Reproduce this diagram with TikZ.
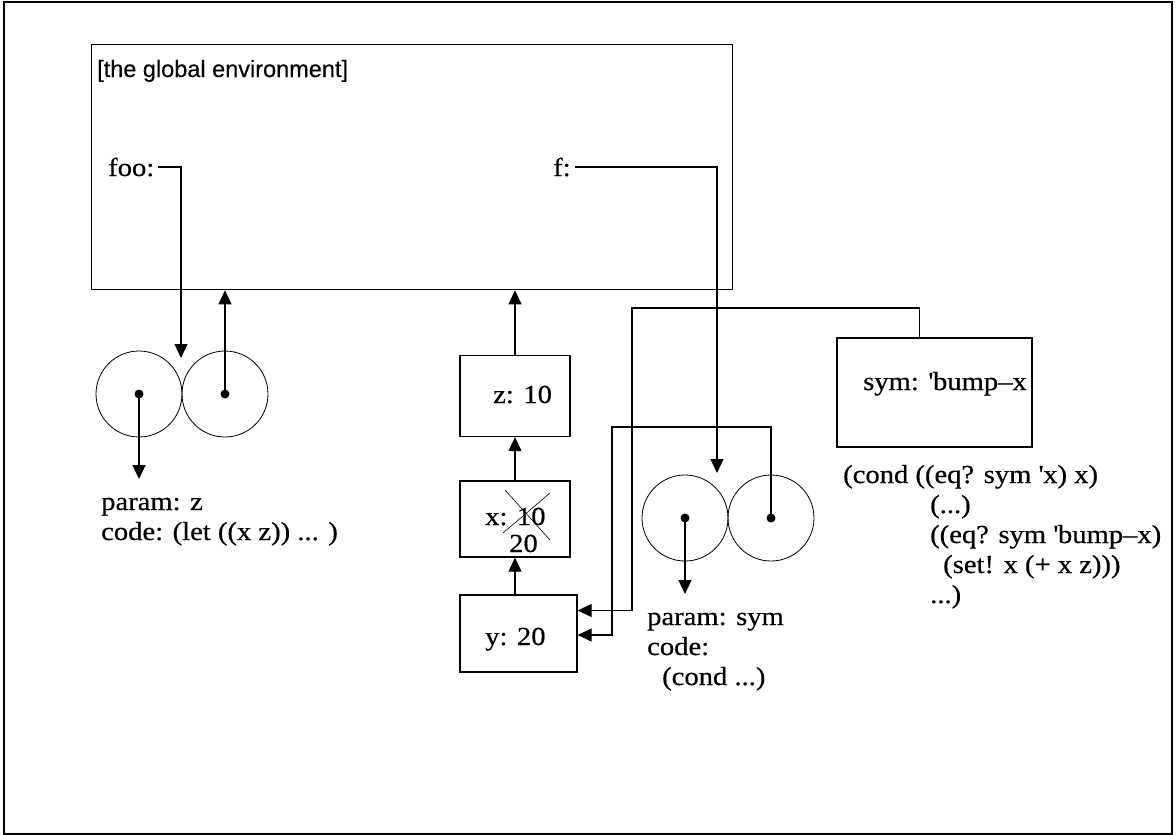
\documentclass[tikz,border=0pt]{standalone}
\usepackage{fontspec}
\setmainfont{Liberation Serif}[FakeStretch=1.1,FakeBold=0.5]
\newfontfamily\helv{Liberation Sans}[FakeBold=0.3]
\usetikzlibrary{arrows.meta}
\begin{document}
\begin{tikzpicture}[x=1pt,y=-1pt,
  box/.style={draw, line width=1.3pt, inner sep=0},
  ring/.style={draw, circle, line width=0.8pt, minimum size=86pt, inner sep=0},
  dot/.style={fill, circle, inner sep=0, minimum size=9pt},
  link/.style={line width=1.2pt, -{Triangle[width=13pt,length=14pt]}},
  txt/.style={font=\fontsize{26}{30}\selectfont, inner sep=0, align=left},
  cross/.style={line width=0.6pt}
  ]
\useasboundingbox (0,0) rectangle (1176,835);
\draw[line width=1.3pt] (4,2) rectangle (1172,834);

% global environment
\node[box, anchor=north west, minimum width=641pt, minimum height=245pt] (genv) at (91,44) {};
\node[anchor=base west, inner sep=0, font=\helv\fontsize{23.5}{27}\selectfont] (glabel) at (97,77) {[the global environment]};
\node[txt, anchor=base west] (foo) at (108,176) {foo:};
\node[txt, anchor=base west] (f) at (553,176) {f:};

% left procedure object
\node[ring] (c1) at (139,394) {};
\node[ring] (c2) at (225,394) {};
\node[dot] (d1) at (c1.center) {};
\node[dot] (d2) at (c2.center) {};
\coordinate (fooend) at (181,358);
\coordinate (c1end) at (139,479);
\draw[link] ([xshift=4pt]foo.east) -| (fooend);
\draw[link] (d1.center) -- (c1end);
\draw[link] (d2.center) -- (d2.center |- genv.south);
\node[txt, anchor=base west] (code1) at (101,540) {param: z\\code: (let ((x z)) ... )};

% frames
\node[box, minimum width=110pt, minimum height=81pt] (zb) at (515,396) {};
\node[txt, anchor=base west] (zt) at (493,403) {z: 10};
\node[box, minimum width=110pt, minimum height=76pt] (xb) at (515,519) {};
\node[txt, anchor=base west] (xt) at (485,525) {x: 10};
\node[txt, anchor=base west] (xv) at (509,552) {20};
\draw[cross] (505,490) -- (550,540);
\draw[cross] (503,533) -- (550,493);
\node[box, minimum width=117pt, minimum height=77pt] (yb) at (518.5,633.5) {};
\node[txt, anchor=base west] (yt) at (485,645) {y: 20};

\draw[link] (xb.south |- yb.north) -- (xb.south);
\draw[link] (xb.north) -- (zb.south);
\draw[link] (zb.north) -- (zb.north |- genv.south);

% right procedure object
\node[ring] (c3) at (685,518) {};
\node[ring] (c4) at (771,518) {};
\node[dot] (d3) at (c3.center) {};
\node[dot] (d4) at (c4.center) {};
\coordinate (fend) at (717,473);
\coordinate (c3end) at (685,594);
\draw[link] ([xshift=4pt]f.east) -| (fend);
\draw[link] (d3.center) -- (c3end);
\node[txt, anchor=base west] (code2) at (647,685) {param: sym\\code:\\\hspace*{15pt}(cond ...)};

% sym frame
\node[box, minimum width=195pt, minimum height=109pt] (symb) at (934.5,392.5) {};
\node[txt, anchor=base west] (symt) at (863,390) {sym: \textquotesingle bump–x};
\node[txt, anchor=base west] (cond) at (843,603) {(cond ((eq? sym \textquotesingle x) x)\\\hspace*{87pt}(...)\\\hspace*{87pt}((eq? sym \textquotesingle bump–x)\\\hspace*{100pt}(set! x (+ x z)))\\\hspace*{87pt}...)};

% enclosing-environment pointers
\coordinate (k1) at (632,308);
\coordinate (k2) at (612,427);
\draw[link] ([xshift=-15pt]symb.north) |- (k1) |- ([yshift=23pt]yb.east);
\draw[link] (d4.center) |- (k2) |- ([yshift=-1.5pt]yb.east);
\end{tikzpicture}
\end{document}
